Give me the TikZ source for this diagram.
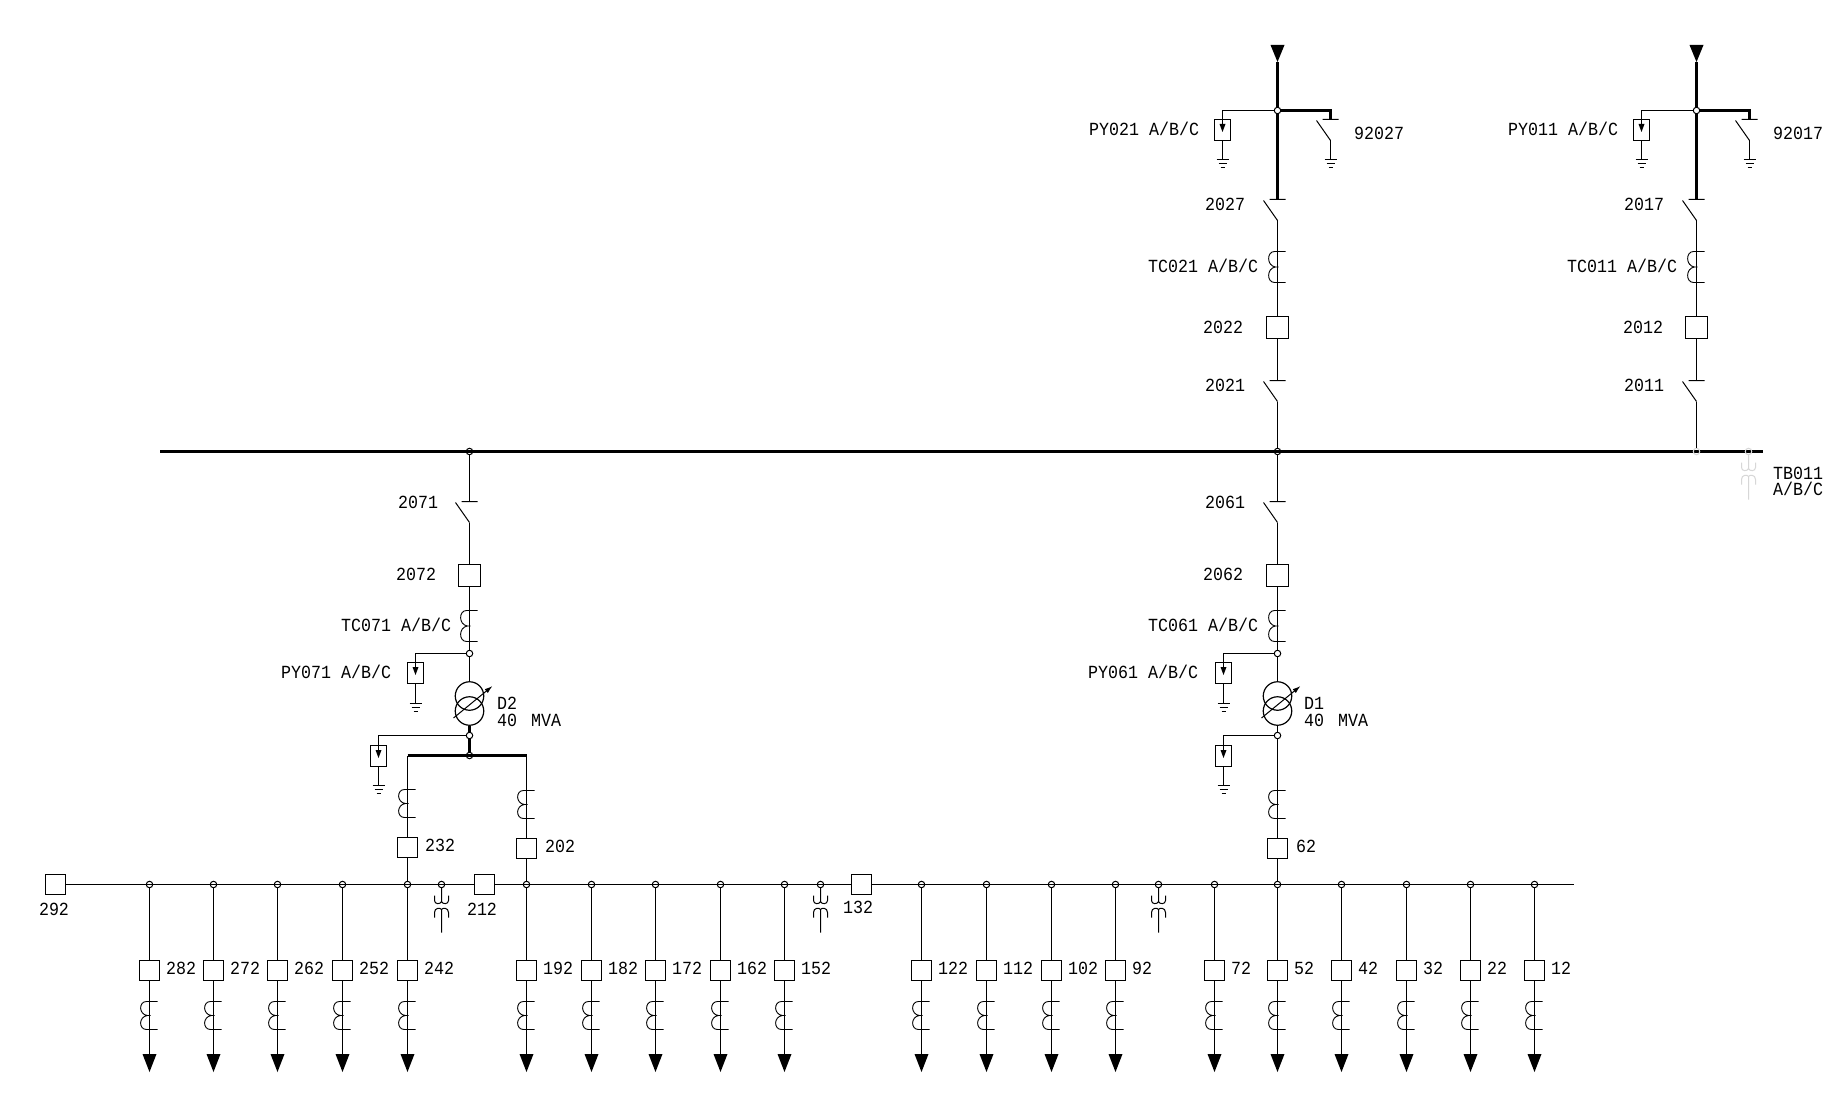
\documentclass[tikz,border=0pt]{standalone}
\usepackage{fontspec}
\newfontfamily\cadfont[FakeStretch=0.9]{Liberation Mono}
\usetikzlibrary{arrows.meta}
\definecolor{faint}{RGB}{215,215,215}
\tikzset{
  wire/.style={line width=1pt},
  heavy/.style={line width=2.2pt},
  busbar/.style={line width=2.6pt},
  jn/.style={circle,draw,line width=1pt,inner sep=0pt,minimum size=6.5pt},
  brk/.style={rectangle,draw,line width=1pt,inner sep=0pt,minimum size=20pt},
  brkl/.style={brk,minimum size=22pt},
  sabox/.style={rectangle,draw,line width=1pt,inner sep=0pt,minimum width=16pt,minimum height=21pt},
  trafo/.style={circle,draw,line width=1.2pt,inner sep=0pt,minimum size=28.5pt},
  lbl/.style={inner sep=0pt,anchor=west,font=\cadfont\fontsize{18.5}{18.5}\selectfont},
  lblc/.style={lbl,anchor=center},
  ctcoil/.pic={\draw[line width=.9pt] (8,0) -- (-3,0) .. controls (-11,0) and (-11,13) .. (-2,14) -- (1,14)
      (-2,14) .. controls (-11,15) and (-11,28) .. (-3,28) -- (8,28);},
  swbar/.pic={\draw[line width=1pt] (-8,0) -- (8,0) (-14,1) -- (0,21);},
  gndsym/.pic={\draw[line width=1pt] (-6,0) -- (6,0) (-4,4) -- (4,4) (-2,8) -- (2,8);},
  tipd/.pic={\fill (-7,0) -- (7,0) -- (0,18) -- cycle;},
  tipu/.pic={\fill (-7,0) -- (7,0) -- (0,17) -- cycle;},
  satip/.pic={\fill (-3,-6) -- (3,-6) -- (0,2) -- cycle;},
  vtsym/.pic={\draw[line width=1pt] (0,3) -- (0,18)
      (-7,11) -- (-7,16) .. controls (-7,20) and (-1,20) .. (0,17) .. controls (1,20) and (7,20) .. (7,16) -- (7,11)
      (-7,33) -- (-7,28) .. controls (-7,23) and (-1,23) .. (0,25) .. controls (1,23) and (7,23) .. (7,28) -- (7,33)
      (0,25) -- (0,48);},
}
\begin{document}
\begin{tikzpicture}[x=1pt,y=-1pt]
\fill[white] (0,0) rectangle (1845,1118);
\useasboundingbox (0,0) rectangle (1845,1118);

% main busbar
\coordinate (busL) at (160,451.5);
\coordinate (busR) at (1763,451.5);
\draw[busbar] (busL) -- (busR);
\node[jn] (mj7) at (469.5,451.5) {};
\node[jn] (mj6) at (1277.5,451.5) {};
\node[jn,draw=faint] (mj1) at (1696.5,451.5) {};
\node[jn,draw=faint] (mjt) at (1748.5,451.5) {};
\pic[color=faint] at (1748.5,451.5) {vtsym};
\node[lbl] (tb1) at (1773,473) {TB011};
\node[lbl] (tb2) at (1773,489) {A/B/C};

% incoming bays
\foreach \x/\n/\lq/\lc/\lb/\ld/\le/\lp/\xq/\xc/\xb/\xd/\xt/\xp in {
  1277.5/a/2027/TC021 A\slash B\slash C/2022/2021/92027/PY021 A\slash B\slash C/1205/1148/1203/1205/1354/1089,
  1696.5/b/2017/TC011 A\slash B\slash C/2012/2011/92017/PY011 A\slash B\slash C/1624/1567/1623/1624/1773/1508}{
  \coordinate (in\n) at (\x,62);
  \pic at (\x,45) {tipu};
  \node[jn] (j\n) at (\x,110.5) {};
  \coordinate (q\n) at (\x,199.5);
  \coordinate (qq\n) at (\x,220.5);
  \coordinate (ct\n) at (\x,251.5);
  \node[brkl] (br\n) at (\x,327.5) {};
  \coordinate (d\n) at (\x,380.5);
  \coordinate (dd\n) at (\x,401.5);
  \draw[heavy] (in\n) -- (j\n) -- (q\n);
  \pic at (q\n) {swbar};
  \draw[wire] (qq\n) -- (br\n);
  \pic[yscale=1.107] at (ct\n) {ctcoil};
  \pic at (d\n) {swbar};
  \draw[wire] (br\n) -- (d\n);
  % earth switch
  \coordinate (e\n) at (\x+53,119.5);
  \coordinate (ee\n) at (\x+53,140.5);
  \coordinate (eg\n) at (\x+53,159.5);
  \draw[heavy] (j\n) -| (e\n);
  \pic at (e\n) {swbar};
  \draw[wire] (ee\n) -- (eg\n);
  \pic at (eg\n) {gndsym};
  % surge arrester
  \node[sabox] (sa\n) at (\x-55,130) {};
  \coordinate (sg\n) at (\x-55,159.5);
  \draw[wire] (j\n) -| (sa\n.center);
  \pic at (sa\n.center) {satip};
  \draw[wire] (sa\n) -- (sg\n);
  \pic at (sg\n) {gndsym};
  \node[lbl] (lq\n) at (\xq,204) {\lq};
  \node[lbl] (lc\n) at (\xc,266) {\lc};
  \node[lbl] (lb\n) at (\xb,327) {\lb};
  \node[lbl] (ld\n) at (\xd,385) {\ld};
  \node[lbl] (le\n) at (\xt,133) {\le};
  \node[lbl] (lp\n) at (\xp,129) {\lp};
}
\draw[wire] (dda) -- (mj6);
\draw[wire] (ddb) -- (mj1);

% transformer bays
\foreach \x/\n/\xa/\ls/\lb/\lc/\lp/\lt/\xs/\xb/\xc/\xp/\xt in {
  469.5/c/378.5/2071/2072/TC071 A\slash B\slash C/PY071 A\slash B\slash C/D2/398/396/341/281/497,
  1277.5/d/1223.5/2061/2062/TC061 A\slash B\slash C/PY061 A\slash B\slash C/D1/1205/1203/1148/1088/1304}{
  \coordinate (s\n) at (\x,501.5);
  \coordinate (ss\n) at (\x,522.5);
  \pic at (s\n) {swbar};
  \node[brkl] (br\n) at (\x,575.5) {};
  \node[jn] (u\n) at (\x,653.5) {};
  \node[trafo] (tu\n) at (\x,696) {};
  \node[trafo] (tl\n) at (\x,711) {};
  \node[jn] (l\n) at (\x,735.5) {};
  \draw[wire] (ss\n) -- (br\n);
  \draw[wire] (br\n) -- (u\n);
  \draw[wire] (u\n) -- (tu\n);
  \pic[yscale=1.107] at (\x,610.5) {ctcoil};
  \coordinate (sl\n) at (\x-16,718);
  \coordinate (sh\n) at (\x+23,686);
  \draw[wire,-{Latex[length=8pt,width=5pt]}] (sl\n) -- (sh\n);
  \node[sabox] (pa\n) at (\x-54,673) {};
  \coordinate (pg\n) at (\x-54,703.5);
  \draw[wire] (u\n) -| (pa\n.center);
  \pic at (pa\n.center) {satip};
  \draw[wire] (pa\n) -- (pg\n);
  \pic at (pg\n) {gndsym};
  \node[sabox] (pb\n) at (\xa,756) {};
  \coordinate (pc\n) at (\xa,785.5);
  \draw[wire] (l\n) -| (pb\n.center);
  \pic at (pb\n.center) {satip};
  \draw[wire] (pb\n) -- (pc\n);
  \pic at (pc\n) {gndsym};
  \node[lbl] (ls\n) at (\xs,502) {\ls};
  \node[lbl] (lb\n) at (\xb,574) {\lb};
  \node[lbl] (lc\n) at (\xc,625) {\lc};
  \node[lbl] (lp\n) at (\xp,672) {\lp};
  \node[lbl] (lt\n) at (\xt,703) {\lt};
  \node[lbl] (lm\n) at (\xt,720) {40\hspace{4pt} MVA};
}
\draw[wire] (mj7) -- (sc);
\draw[wire] (mj6) -- (sd);

% LV bus
\node[brk] (b292) at (55.5,884.5) {};
\node[brk] (b212) at (484.5,884.5) {};
\node[brk] (b132) at (861.5,884.5) {};
\coordinate (lvR) at (1574,884.5);
\draw[wire] (b292) -- (b212) (b212) -- (b132) (b132) -- (lvR);
\node[lblc] (t292) at (54,909) {292};
\node[lblc] (t212) at (482,909) {212};
\node[lblc] (t132) at (858,907) {132};

% outgoing feeders
\foreach \x/\t in {149.5/282,213.5/272,277.5/262,342.5/252,407.5/242,
  526.5/192,591.5/182,655.5/172,720.5/162,784.5/152,
  921.5/122,986.5/112,1051.5/102,1115.5/92,
  1214.5/72,1277.5/52,1341.5/42,1406.5/32,1470.5/22,1534.5/12}{
  \node[jn] (fj\t) at (\x,884.5) {};
  \node[brk] (f\t) at (\x,970.5) {};
  \coordinate (fe\t) at (\x,1056);
  \draw[wire] (fj\t) -- (f\t);
  \draw[wire] (f\t) -- (fe\t);
  \pic at (\x,1001.5) {ctcoil};
  \pic at (\x,1054) {tipd};
  \node[lbl] (ft\t) at (\x+16.5,968) {\t};
}

% voltage transformers on LV bus
\foreach \x/\n in {441.5/1,820.5/2,1158.5/3}{
  \node[jn] (vj\n) at (\x,884.5) {};
  \pic at (\x,884.5) {vtsym};
}

% LV tie-ins
\draw[heavy] (tlc) -- (lc);
\coordinate (topc) at (469.5,755.5);
\node[jn] (jh) at (topc) {};
\coordinate (hl) at (407.5,755.5);
\coordinate (hr) at (526.5,755.5);
\draw[heavy] (lc) -- (jh);
\draw[heavy] (hl) -- (hr);
\node[brk] (b232) at (407.5,847.5) {};
\node[brk] (b202) at (526.5,848.5) {};
\draw[wire] (hl) -- (b232);
\draw[wire] (hr) -- (b202);
\draw[wire] (b232) -- (fj242);
\draw[wire] (b202) -- (fj192);
\pic at (407.5,789.5) {ctcoil};
\pic at (526.5,790.5) {ctcoil};
\node[lbl] (t232) at (425,845) {232};
\node[lbl] (t202) at (545,846) {202};

\node[brk] (b62) at (1277.5,848.5) {};
\draw[wire] (tld) -- (ld);
\draw[wire] (ld) -- (b62);
\draw[wire] (b62) -- (fj52);
\pic at (1277.5,790.5) {ctcoil};
\node[lbl] (t62) at (1296,846) {62};
\end{tikzpicture}
\end{document}
